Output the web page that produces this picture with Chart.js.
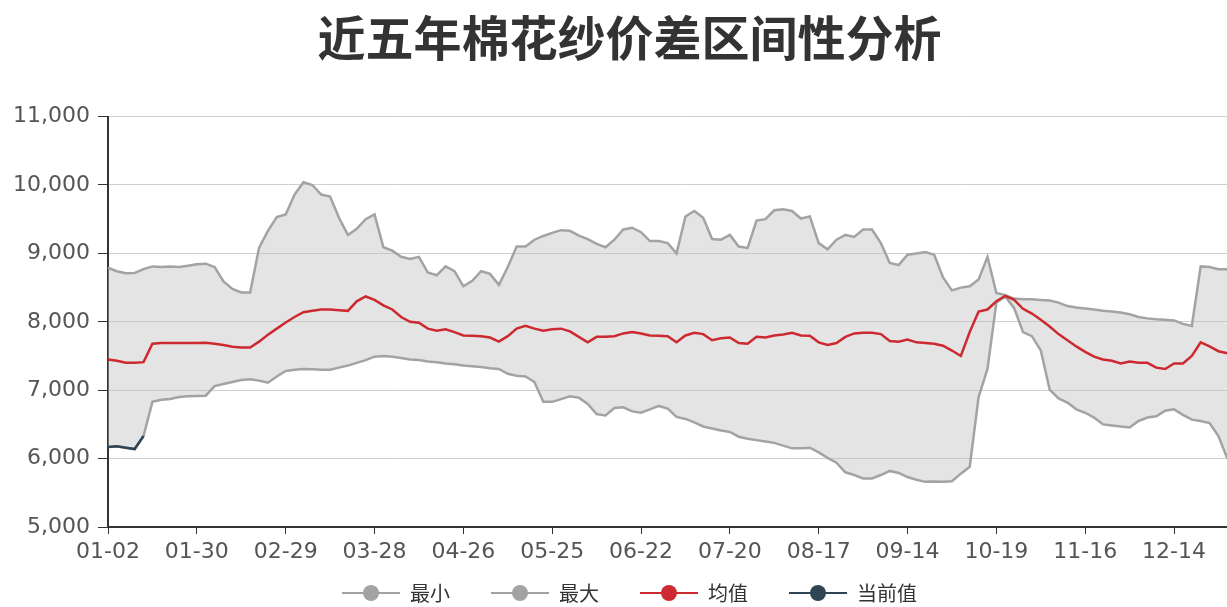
<!DOCTYPE html>
<html>
<head>
<meta charset="utf-8">
<title>近五年棉花纱价差区间性分析</title>
<script src="https://cdn.jsdelivr.net/npm/chart.js@4.4.1/dist/chart.umd.min.js"></script>
<style>
    html, body { margin: 0; padding: 0; overflow: hidden; background: #fff; }
    #spreadChart { display: block; width: 1259px; height: 607px; }
</style>
</head>
<body>
<canvas id="spreadChart" width="1259" height="607"></canvas>
<script>
// Tick labels on the x axis (one every 10 points)
const tickLabels = ['01-02', '01-30', '02-29', '03-28', '04-26', '05-25', '06-22',
    '07-20', '08-17', '09-14', '10-19', '11-16', '12-14'];
const categoryCount = 130;

// Series values (yuan/t)
const minValues = [
    6170, 6180, 6160, 6140, 6330, 6830, 6860, 6870, 6900, 6910,
    6915, 6920, 7060, 7090, 7120, 7150, 7160, 7140, 7110, 7200,
    7280, 7300, 7310, 7305, 7300, 7300, 7330, 7360, 7400, 7440,
    7490, 7500, 7490, 7470, 7450, 7440, 7420, 7410, 7390, 7380,
    7360, 7350, 7340, 7320, 7310, 7240, 7210, 7200, 7120, 6830,
    6830, 6870, 6910, 6890, 6800, 6650, 6630, 6740, 6750, 6690,
    6670, 6720, 6770, 6730, 6610, 6580, 6530, 6470, 6440, 6410,
    6390, 6320, 6290, 6270, 6250, 6230, 6190, 6150, 6150, 6160,
    6090, 6010, 5940, 5800, 5760, 5710, 5710, 5760, 5820, 5790,
    5730, 5690, 5660, 5665, 5660, 5670, 5780, 5880, 6900, 7310,
    8280, 8370, 8200, 7850, 7790, 7580, 7010, 6880, 6820, 6720,
    6670, 6600, 6500, 6485, 6470, 6455, 6550, 6600, 6620, 6700,
    6720, 6640, 6570, 6550, 6520, 6330, 6000
];
const maxValues = [
    8790, 8740, 8710, 8715, 8770, 8810, 8800, 8810, 8800, 8820,
    8840, 8850, 8800, 8590, 8480, 8430, 8430, 9080, 9330, 9530,
    9570, 9860, 10040, 10000, 9860, 9830, 9520, 9270, 9360, 9500,
    9570, 9090, 9040, 8950, 8920, 8950, 8720, 8680, 8810, 8740,
    8520, 8600, 8740, 8700, 8540, 8800, 9100, 9100, 9200, 9255,
    9300, 9340, 9330, 9260, 9210, 9140, 9090, 9200, 9350, 9375,
    9310, 9180, 9180, 9150, 9000, 9540, 9620, 9520, 9210, 9200,
    9270, 9100, 9080, 9480, 9500, 9630, 9645, 9620, 9510, 9540,
    9150, 9060, 9200, 9270, 9240, 9350, 9350, 9150, 8860, 8830,
    8980, 9000, 9020, 8980, 8650, 8460, 8500, 8520, 8620, 8950,
    8420, 8390, 8340, 8330, 8330, 8320, 8310, 8280, 8230, 8210,
    8195, 8180, 8160, 8150, 8135, 8110, 8070, 8050, 8037, 8030,
    8020, 7970, 7940, 8810, 8800, 8770, 8770
];
const meanValues = [
    7450, 7430, 7400, 7400, 7410, 7680, 7690, 7690, 7690, 7690,
    7690, 7695, 7680, 7660, 7635, 7625, 7625, 7710, 7810, 7900,
    7990, 8070, 8140, 8160, 8180, 8180, 8170, 8160, 8300, 8370,
    8320, 8240, 8180, 8070, 8000, 7985, 7900, 7870, 7890, 7850,
    7800, 7795, 7790, 7770, 7710, 7790, 7900, 7940, 7900, 7870,
    7890, 7900, 7860, 7780, 7700, 7780, 7780, 7790, 7830, 7850,
    7830, 7800, 7795, 7790, 7700, 7800, 7840, 7820, 7730, 7760,
    7770, 7690, 7680, 7780, 7770, 7800, 7815, 7840, 7800, 7795,
    7700, 7660, 7690, 7780, 7830, 7840, 7840, 7820, 7720, 7710,
    7740, 7700, 7690, 7680, 7650, 7580, 7500, 7850, 8150, 8180,
    8300, 8380, 8320, 8190, 8120, 8030, 7930, 7820, 7730, 7640,
    7560, 7490, 7450, 7430, 7390, 7420, 7400, 7400, 7330, 7310,
    7390, 7390, 7500, 7700, 7640, 7570, 7540
];
const currentValues = [6170, 6180, 6160, 6140, 6330];

const categories = Array.from({ length: categoryCount }, (_, i) =>
    (i % 10 === 0 && tickLabels[i / 10]) ? tickLabels[i / 10] : '');

const GRAY = '#a3a3a3';
const RED = '#cc2a30';
const NAVY = '#2f4554';

// Legend icon: short line with a dot in the middle
function makeLegendIcon(color) {
    const c = document.createElement('canvas');
    c.width = 58;
    c.height = 18;
    const g = c.getContext('2d');
    g.strokeStyle = color;
    g.lineWidth = 2;
    g.beginPath();
    g.moveTo(0, 9);
    g.lineTo(58, 9);
    g.stroke();
    g.fillStyle = color;
    g.beginPath();
    g.arc(29, 9, 8, 0, Math.PI * 2);
    g.fill();
    return c;
}
const legendIcons = [makeLegendIcon(GRAY), makeLegendIcon(GRAY), makeLegendIcon(RED), makeLegendIcon(NAVY)];
const lastLegendIndex = 3;

const tickFont = { family: "'DejaVu Sans', sans-serif", size: 22 };

new Chart(document.getElementById('spreadChart'), {
    type: 'line',
    data: {
        labels: categories,
        datasets: [{
            label: '最小',
            data: minValues,
            borderColor: GRAY,
            borderWidth: 2.5,
            pointRadius: 0,
            fill: false,
            order: 2
        }, {
            label: '最大',
            data: maxValues,
            borderColor: GRAY,
            backgroundColor: 'rgba(190, 190, 190, 0.42)',
            borderWidth: 2.5,
            pointRadius: 0,
            fill: '-1',
            order: 2
        }, {
            label: '均值',
            data: meanValues,
            borderColor: RED,
            borderWidth: 2.5,
            pointRadius: 0,
            fill: false,
            order: 1
        }, {
            label: '当前值',
            data: currentValues,
            borderColor: NAVY,
            borderWidth: 2.5,
            pointRadius: 0,
            fill: false,
            order: 0
        }]
    },
    options: {
        responsive: false,
        animation: false,
        layout: {
            padding: { top: 0, left: 0, right: 0, bottom: -6 }
        },
        plugins: {
            filler: { drawTime: 'beforeDatasetsDraw' },
            tooltip: { enabled: false },
            title: {
                display: true,
                text: '近五年棉花纱价差区间性分析',
                color: '#333',
                font: { family: "'Noto Sans CJK SC', sans-serif", size: 48, weight: 'bold' },
                padding: { top: 9, bottom: 50 }
            },
            legend: {
                position: 'bottom',
                labels: {
                    usePointStyle: true,
                    pointStyleWidth: 58,
                    padding: 21,
                    color: '#333',
                    font: { family: "'Noto Sans CJK SC', sans-serif", size: 20 },
                    sort: (a, b) => a.datasetIndex - b.datasetIndex,
                    generateLabels: (chart) => {
                        const items = Chart.defaults.plugins.legend.labels.generateLabels(chart);
                        return items.map(item => {
                            item.pointStyle = legendIcons[item.datasetIndex];
                            // wider gap after every item but the last one
                            if (item.datasetIndex !== lastLegendIndex) item.text += '\u2002\u2002';
                            return item;
                        });
                    }
                }
            }
        },
        scales: {
            x: {
                type: 'category',
                afterFit: (scale) => { scale.height = 35; },
                border: { display: true, color: '#333', width: 2 },
                grid: {
                    drawOnChartArea: false,
                    drawTicks: true,
                    tickLength: 7,
                    color: (ctx) => (ctx.tick && ctx.tick.label) ? '#333' : 'rgba(0,0,0,0)',
                    tickColor: (ctx) => (ctx.tick && ctx.tick.label) ? '#333' : 'rgba(0,0,0,0)'
                },
                ticks: {
                    autoSkip: false,
                    maxRotation: 0,
                    padding: 5,
                    color: '#555',
                    font: tickFont,
                    callback: (value, index) => categories[index]
                }
            },
            y: {
                min: 5000,
                max: 11000,
                afterFit: (scale) => { scale.width = 108; },
                border: { display: true, color: '#333', width: 2 },
                grid: {
                    color: '#cfcfcf',
                    tickColor: '#333',
                    tickLength: 10
                },
                ticks: {
                    stepSize: 1000,
                    padding: 8,
                    color: '#555',
                    font: tickFont
                }
            }
        }
    }
});
</script>
</body>
</html>
